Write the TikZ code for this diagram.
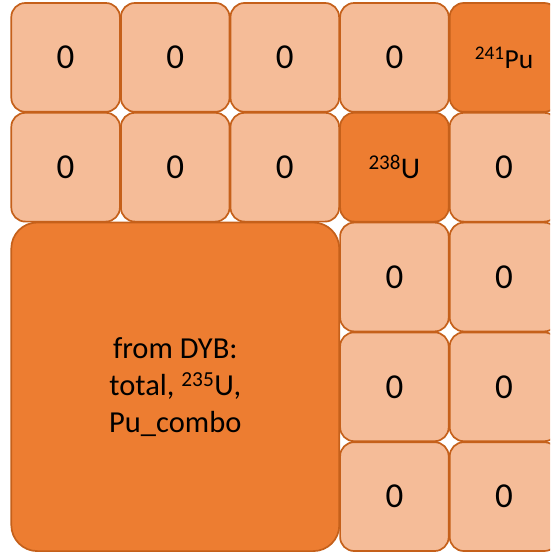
\documentclass[tikz,border=0pt]{standalone}
\usepackage{fontspec}
\setmainfont{Carlito}
\definecolor{lightor}{HTML}{F5BC98}
\definecolor{darkor}{HTML}{ED7D31}
\definecolor{edgeor}{HTML}{C5601A}
\begin{document}
\begin{tikzpicture}[x=1pt,y=-1pt,
  cellbase/.style={draw=edgeor, line width=1.7pt, inner sep=0pt, outer sep=0pt,
    font=\fontsize{35}{40}\selectfont, text=black},
  small/.style={cellbase, rounded corners=14pt, minimum width=108.6pt, minimum height=108.8pt},
  lightcell/.style={small, fill=lightor},
  darkcell/.style={small, fill=darkor},
  bigcell/.style={cellbase, fill=darkor, rounded corners=26pt, minimum width=328pt, minimum height=328.6pt,
    font=\fontsize{30.5}{37}\selectfont, align=center}]
\useasboundingbox (0,0) rectangle (550,554);
\clip (0,0) rectangle (550,554);
% row 1
\node[lightcell] (r1c1) at (65.6,57.4) {0};
\node[lightcell] (r1c2) at (175.2,57.4) {0};
\node[lightcell] (r1c3) at (284.8,57.4) {0};
\node[lightcell] (r1c4) at (394.4,57.4) {0};
\node[darkcell, font=\fontsize{27.5}{32}\selectfont] (r1c5) at (504,57.4) {\textsuperscript{241}Pu};
% row 2
\node[lightcell] (r2c1) at (65.6,167.2) {0};
\node[lightcell] (r2c2) at (175.2,167.2) {0};
\node[lightcell] (r2c3) at (284.8,167.2) {0};
\node[darkcell, font=\fontsize{30}{34}\selectfont] (r2c4) at (394.4,167.2) {\textsuperscript{238}U};
\node[lightcell] (r2c5) at (504,167.2) {0};
% rows 3-5, right columns
\node[lightcell] (r3c4) at (394.4,277) {0};
\node[lightcell] (r3c5) at (504,277) {0};
\node[lightcell] (r4c4) at (394.4,386.8) {0};
\node[lightcell] (r4c5) at (504,386.8) {0};
\node[lightcell] (r5c4) at (394.4,496.6) {0};
\node[lightcell] (r5c5) at (504,496.6) {0};
% big cell
\node[bigcell] (big) at (175.3,386.8) {from DYB:\\total, \textsuperscript{235}U,\\Pu\_combo};
\end{tikzpicture}
\end{document}
